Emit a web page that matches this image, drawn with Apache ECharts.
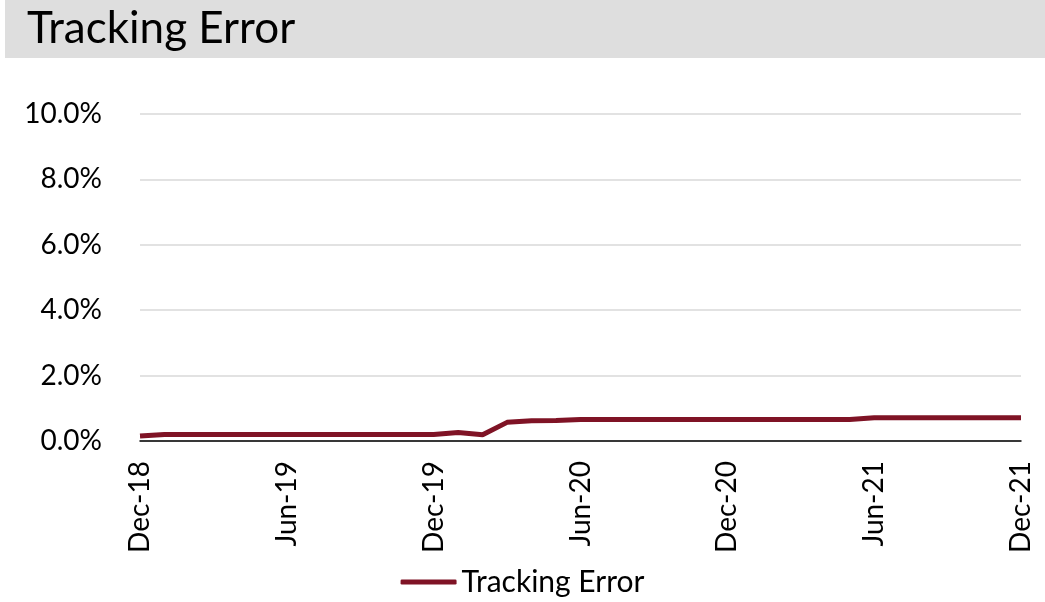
<!DOCTYPE html>
<html>
<head>
<meta charset="utf-8">
<script src="https://cdn.jsdelivr.net/npm/echarts@6/dist/echarts.min.js"></script>
<style>
  html, body { margin: 0; padding: 0; background: #fff; }
  #chart { width: 1045px; height: 602px; }
</style>
</head>
<body>
<div id="chart"></div>
<script>
const months = [
  'Dec-18',
  'Jan-19', 'Feb-19', 'Mar-19', 'Apr-19', 'May-19', 'Jun-19', 'Jul-19', 'Aug-19', 'Sep-19', 'Oct-19', 'Nov-19', 'Dec-19',
  'Jan-20', 'Feb-20', 'Mar-20', 'Apr-20', 'May-20', 'Jun-20', 'Jul-20', 'Aug-20', 'Sep-20', 'Oct-20', 'Nov-20', 'Dec-20',
  'Jan-21', 'Feb-21', 'Mar-21', 'Apr-21', 'May-21', 'Jun-21', 'Jul-21', 'Aug-21', 'Sep-21', 'Oct-21', 'Nov-21', 'Dec-21'
]

// tracking error, percent
const trackingError = [
  0.15,
  0.20, 0.20, 0.20, 0.20, 0.20, 0.20, 0.20, 0.20, 0.20, 0.20, 0.20, 0.20,
  0.26, 0.19, 0.57, 0.62, 0.63, 0.66, 0.66, 0.66, 0.66, 0.66, 0.66, 0.66,
  0.66, 0.66, 0.66, 0.66, 0.66, 0.71, 0.71, 0.71, 0.71, 0.71, 0.71, 0.71
]

const chart = echarts.init(document.getElementById('chart'))

const labelFont = { color: '#000', fontSize: 28, fontFamily: 'Lato, "Liberation Sans", sans-serif' }

chart.setOption({
  animation: false,
  graphic: [
    {
      type: 'rect',
      shape: { x: 5, y: 0, width: 1040, height: 58 },
      style: { fill: '#dedede' }
    },
    {
      type: 'text',
      left: 27,
      top: 7,
      style: {
        text: 'Tracking Error',
        fill: '#000',
        fontSize: 44,
        fontFamily: 'Lato, "Noto Sans", sans-serif'
      }
    }
  ],
  legend: {
    bottom: 0,
    left: 'center',
    icon: 'roundRect',
    itemWidth: 56,
    itemHeight: 5,
    itemGap: 4,
    textStyle: { ...labelFont, fontSize: 30 },
    data: ['Tracking Error']
  },
  grid: { left: 140, right: 24, top: 114, bottom: 161 },
  xAxis: {
    type: 'category',
    data: months,
    boundaryGap: false,
    axisLine: { lineStyle: { color: '#000', width: 1.5 } },
    axisTick: { show: false },
    axisLabel: {
      ...labelFont,
      rotate: 90,
      interval: 5,
      margin: 20
    }
  },
  yAxis: {
    type: 'value',
    min: 0,
    max: 10,
    interval: 2,
    axisLine: { show: false },
    axisTick: { show: false },
    axisLabel: {
      ...labelFont,
      margin: 38,
      formatter: (v) => v.toFixed(1) + '%'
    },
    splitLine: { lineStyle: { color: '#d9d9d9', width: 1.5 } }
  },
  series: [
    {
      name: 'Tracking Error',
      type: 'line',
      data: trackingError,
      symbol: 'none',
      lineStyle: { color: '#7f1325', width: 5 },
      itemStyle: { color: '#7f1325' }
    }
  ]
})
</script>
</body>
</html>
